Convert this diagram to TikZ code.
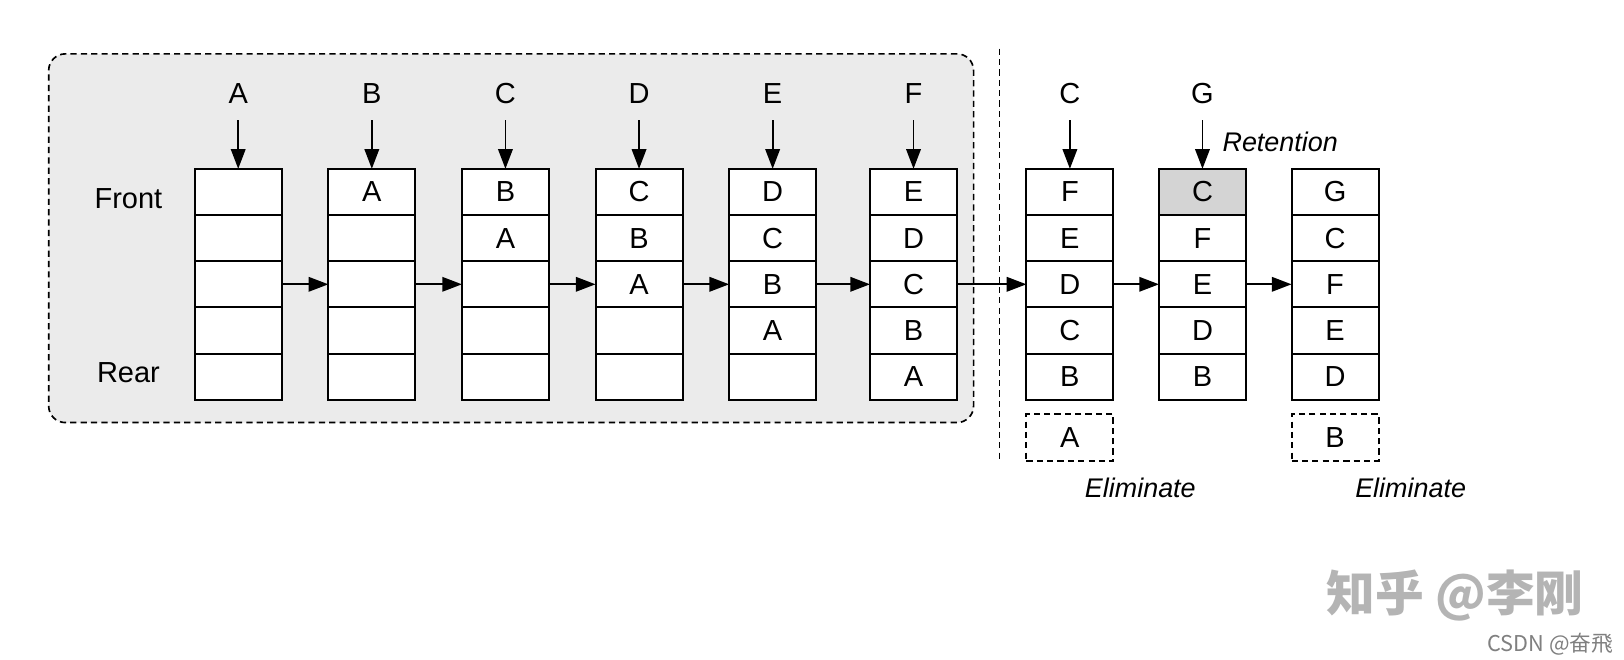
\documentclass[tikz,border=0pt]{standalone}
\usepackage{fontspec}
\setmainfont{Liberation Sans}
\newfontfamily\cjkfont{Noto Sans CJK SC}
\usetikzlibrary{arrows.meta}
\definecolor{bggray}{HTML}{EBEBEB}
\definecolor{cellgray}{HTML}{D4D4D4}
\definecolor{wmgray}{HTML}{B4B4B4}
\tikzset{
  cell/.style={draw, line width=1pt, fill=white, minimum width=42pt, minimum height=22.3pt,
    inner sep=0pt, outer sep=0pt, font=\fontsize{14}{16}\selectfont},
  dcell/.style={cell, fill=none, dashed, dash pattern=on 3pt off 2pt, minimum height=22.5pt},
  lbl/.style={inner sep=0pt, font=\fontsize{14}{16}\selectfont},
  note/.style={inner sep=0pt, font=\fontsize{13}{15}\selectfont\itshape},
  arr/.style={line width=0.9pt, -{Triangle[length=9.5pt,width=7pt]}},
  vline/.style={line width=0.8pt, dashed, dash pattern=on 3pt off 2pt},
  bgbox/.style={draw, line width=0.8pt, dash pattern=on 3pt off 2pt, fill=bggray,
    rounded corners=8pt, inner sep=0pt, outer sep=0pt}
}
\newcommand\qcol[7]{%
  \node[cell] (#1-1) at (#2,185.3) {#3};
  \node[cell] (#1-2) at (#2,229.9) {#4};
  \node[cell] (#1-3) at (#2,274.5) {#5};
  \node[cell] (#1-4) at (#2,319.1) {#6};
  \node[cell] (#1-5) at (#2,363.7) {#7};
}
\begin{document}
\begin{tikzpicture}[x=0.5pt,y=-0.5pt]
\useasboundingbox (0,0) rectangle (1568,637);
\fill[white] (0,0) rectangle (1568,637);

% grey dashed background group
\node[bgbox, minimum width=446.5pt, minimum height=178pt] (bg) at (493.5,230) {};

% vertical separator
\coordinate (vtop) at (965,47);
\coordinate (vbot) at (965,446);
\draw[vline] (vtop) -- (vbot);

% labels
\node[lbl] (front) at (124,192) {Front};
\node[lbl] (rear) at (124,360) {Rear};

% columns
\qcol{c1}{230}{}{}{}{}{}
\qcol{c2}{359}{A}{}{}{}{}
\qcol{c3}{488}{B}{A}{}{}{}
\qcol{c4}{617}{C}{B}{A}{}{}
\qcol{c5}{746}{D}{C}{B}{A}{}
\qcol{c6}{882}{E}{D}{C}{B}{A}
\qcol{g1}{1033}{F}{E}{D}{C}{B}
\qcol{g2}{1161}{C}{F}{E}{D}{B}
\qcol{g3}{1289}{G}{C}{F}{E}{D}
\node[cell, fill=cellgray] at (g2-1) {C};

% top letters and arrows
\foreach \n/\x/\t in {c1/230/A, c2/359/B, c3/488/C, c4/617/D, c5/746/E, c6/882/F, g1/1033/C, g2/1161/G}{
  \node[lbl] (t\n) at (\x,90) {\t};
  \draw[arr, shorten <=8pt] (t\n.south) -- (\n-1.north);
}

% horizontal arrows
\foreach \a/\b in {c1/c2, c2/c3, c3/c4, c4/c5, c5/c6, c6/g1, g1/g2, g2/g3}{
  \draw[arr] (\a-3.east) -- (\b-3.west);
}

% eliminated items
\node[dcell] (e1) at (1033,422.5) {A};
\node[dcell] (e2) at (1289,422.5) {B};
\node[note] (elim1) at (1101,471) {Eliminate};
\node[note] (elim2) at (1362,471) {Eliminate};
\node[note, anchor=west] (ret) at (1180,137) {Retention};

% watermark
\node[inner sep=0pt, text=wmgray, font=\cjkfont\bfseries\fontsize{23.5}{26}\selectfont] (wm) at (1405,575) {知乎 @李刚};
\node[inner sep=0pt, text=gray, font=\cjkfont\fontsize{10.5}{12}\selectfont] (csdn) at (1497,622) {CSDN @奋飛};
\end{tikzpicture}
\end{document}
